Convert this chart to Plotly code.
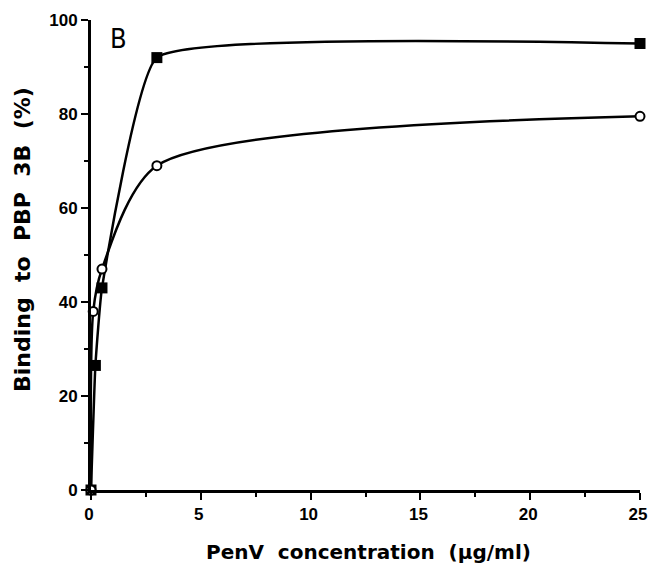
import plotly.graph_objects as go

conc_sq = [0, 0.2, 0.5, 3, 25]
bind_sq = [0, 26.5, 43, 92, 95]
conc_ci = [0, 0.1, 0.5, 3, 25]
bind_ci = [0, 38, 47, 69, 79.5]

xticks = [0, 5, 10, 15, 20, 25]
yticks = [0, 20, 40, 60, 80, 100]

L, R, T, B = 91, 9, 20, 81
W, H = 649, 571
pw, ph = W - L - R, H - T - B

fig = go.Figure()
fig.add_trace(go.Scatter(x=conc_sq, y=bind_sq, mode="lines+markers",
                         line=dict(color="black", width=2.5, shape="spline", smoothing=0.35),
                         marker=dict(symbol="square", size=11, color="black"),
                         cliponaxis=False, showlegend=False))
fig.add_trace(go.Scatter(x=conc_ci, y=bind_ci, mode="lines+markers",
                         line=dict(color="black", width=2.5, shape="spline", smoothing=0.75),
                         marker=dict(symbol="circle", size=9, color="white",
                                     line=dict(color="black", width=2)),
                         cliponaxis=False, showlegend=False))

tickfont = dict(size=17, family="Liberation Sans, Arial", weight="bold", color="black")
common = dict(showgrid=False, zeroline=False, showline=True, linecolor="black", linewidth=3,
              ticks="outside", ticklen=7, tickwidth=2, tickcolor="black",
              tickfont=tickfont, automargin=False, ticklabeloverflow="allow")

fig.update_layout(
    width=W, height=H,
    margin=dict(l=L, r=R, t=T, b=B),
    plot_bgcolor="white", paper_bgcolor="white",
    font=dict(family="DejaVu Sans", color="black"),
    xaxis=dict(range=[0, 25], tickvals=xticks, ticktext=[str(v) for v in xticks],
               minor=dict(tickvals=[2.5, 7.5, 12.5, 17.5, 22.5], ticks="outside",
                          ticklen=4, tickwidth=2, tickcolor="black"),
               ticklabelshift=-2,
               **common),
    yaxis=dict(range=[0, 100], tickvals=yticks, ticktext=[str(v) for v in yticks],
               minor=dict(tickvals=[10, 30, 50, 70, 90], ticks="outside",
                          ticklen=4, tickwidth=2, tickcolor="black"),
               **common),
    annotations=[
        dict(x=(118 - L) / pw, y=(H - B - 38) / ph, xref="paper", yref="paper", text="B",
             showarrow=False, xanchor="center", yanchor="middle",
             font=dict(size=27, family="DejaVu Sans Condensed, Liberation Sans Narrow, DejaVu Sans",
                       color="black")),
        dict(x=(368 - L) / pw, y=(H - B - 552) / ph, xref="paper", yref="paper",
             text="PenV  concentration  (µg/ml)", showarrow=False,
             xanchor="center", yanchor="middle",
             font=dict(size=20, family="DejaVu Sans", weight="bold", color="black")),
        dict(x=(22 - L) / pw, y=(H - B - 240) / ph, xref="paper", yref="paper",
             text="Binding  to  PBP  3B  (%)", showarrow=False, textangle=-90,
             xanchor="center", yanchor="middle",
             font=dict(size=22, family="DejaVu Sans", weight="bold", color="black")),
    ],
)
fig.write_html("out.html", config={"displayModeBar": False},
               post_script="document.body.style.margin='0px';")
